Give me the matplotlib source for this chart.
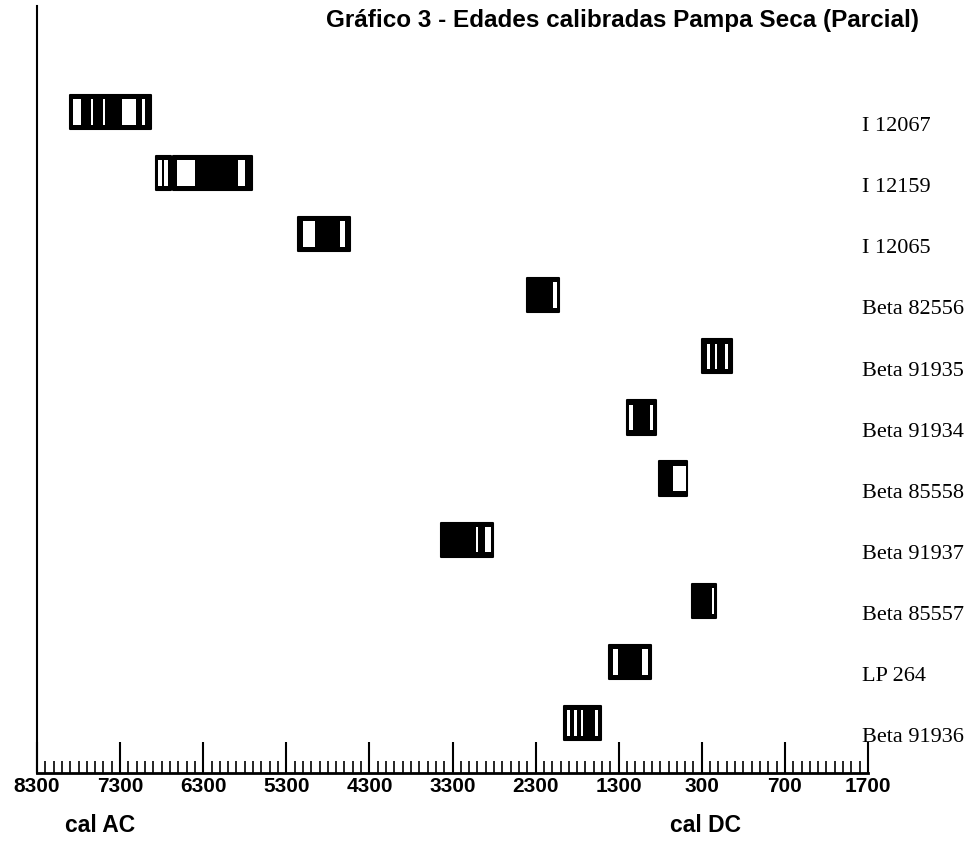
import matplotlib
matplotlib.use("Agg")
import matplotlib.pyplot as plt
from matplotlib.patches import Rectangle

# muestras, de arriba hacia abajo (años cal; AC negativo, DC positivo)
samples = ["I 12067", "I 12159", "I 12065", "Beta 82556", "Beta 91935", "Beta 91934",
           "Beta 85558", "Beta 91937", "Beta 85557", "LP 264", "Beta 91936"]

# cajas (inicio, fin) de cada rango calibrado
boxes = [
    [(-7900, -6930)],
    [(-6870, -6690), (-6665, -5715)],
    [(-5160, -4535)],
    [(-2405, -2020)],
    [(-300, 60)],
    [(-1200, -855)],
    [(-815, -480)],
    [(-3440, -2815)],
    [(-420, -130)],
    [(-1420, -915)],
    [(-1960, -1515)],
]

# franjas blancas dentro de las cajas
stripes = [
    [(-7870, -7770), (-7650, -7625), (-7505, -7480), (-7280, -7110), (-7035, -7000)],
    [(-6844, -6796), (-6772, -6724), (-6616, -6400), (-5880, -5800)],
    [(-5100, -4956), (-4655, -4595)],
    [(-2092, -2044)],
    [(-240, -204), (-144, -120), (-24, 12)],
    [(-1178, -1130), (-925, -889)],
    [(-650, -495)],
    [(-3019, -2995), (-2910, -2838)],
    [(-180, -156)],
    [(-1371, -1311), (-1022, -950)],
    [(-1924, -1888), (-1840, -1804), (-1756, -1732), (-1587, -1551)],
]

major_ticks = list(range(-8300, 1701, 1000))
tick_labels = [str(abs(t)) for t in major_ticks]

fig = plt.figure(figsize=(9.73, 8.64), dpi=100)
ax = fig.add_axes([37 / 973, 1 - 773 / 864, (868 - 37) / 973, (773 - 6) / 864])

H = 0.56      # alto de caja (filas)
B = 0.07      # borde negro arriba/abajo de las franjas
for i, (bx, st) in enumerate(zip(boxes, stripes)):
    for x0, x1 in bx:
        ax.add_patch(Rectangle((x0, i - H / 2), x1 - x0, H, facecolor="black",
                               edgecolor="black", lw=1.5, joinstyle="round"))
    for x0, x1 in st:
        ax.add_patch(Rectangle((x0, i - H / 2 + B), x1 - x0, H - 2 * B,
                               facecolor="white", edgecolor="none"))
    ax.text(1625, i + 0.24, samples[i], family="Liberation Serif", fontsize=16,
            va="center", ha="left", clip_on=False)

ax.set_xlim(-8300, 1700)
ax.set_ylim(10.82, -1.735)
ax.set_xticks(major_ticks)
ax.set_xticklabels(tick_labels, family="Liberation Sans", fontweight="bold", fontsize=15)
ax.set_xticks(range(-8300, 1701, 100), minor=True)
ax.tick_params(axis="x", which="major", direction="in", length=22, width=1.5, pad=3)
ax.tick_params(axis="x", which="minor", direction="in", length=9, width=1.2)
ax.set_yticks([])
for s in ["top", "right"]:
    ax.spines[s].set_visible(False)
ax.spines["left"].set_linewidth(1.5)
ax.spines["bottom"].set_linewidth(2)

fig.text(622 / 973, 1 - 20 / 864, "Gráfico 3 - Edades calibradas Pampa Seca (Parcial)",
         family="Liberation Sans", fontweight="bold", fontsize=17.5, ha="center", va="center")
fig.text(100 / 973, 1 - 826 / 864, "cal AC", family="Liberation Sans", fontweight="bold",
         fontsize=16.5, ha="center", va="center")
fig.text(705 / 973, 1 - 826 / 864, "cal DC", family="Liberation Sans", fontweight="bold",
         fontsize=16.5, ha="center", va="center")

fig.savefig("out.png", dpi=100)
